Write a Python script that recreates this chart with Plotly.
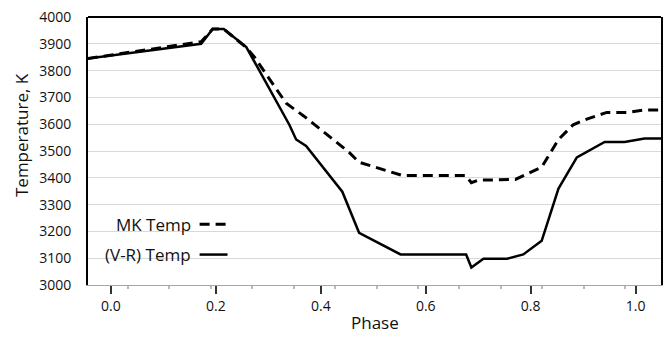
import plotly.graph_objects as go

# Data
phase_vr = [-0.044, 0.172, 0.194, 0.215, 0.258, 0.340, 0.353, 0.372, 0.441, 0.473,
            0.552, 0.677, 0.687, 0.710, 0.755, 0.786, 0.821, 0.853, 0.888, 0.941,
            0.979, 1.017, 1.049]
temp_vr = [3845, 3900, 3955, 3955, 3888, 3598, 3543, 3519, 3348, 3195,
           3114, 3114, 3065, 3098, 3098, 3114, 3165, 3360, 3476, 3534,
           3534, 3547, 3547]

phase_mk = [-0.044, 0.172, 0.194, 0.215, 0.258, 0.274, 0.334, 0.368, 0.454, 0.473,
            0.555, 0.676, 0.687, 0.700, 0.771, 0.802, 0.821, 0.840, 0.853, 0.881,
            0.907, 0.945, 0.983, 1.017, 1.049]
temp_mk = [3845, 3908, 3955, 3955, 3886, 3849, 3678, 3630, 3495, 3458,
           3409, 3409, 3382, 3391, 3394, 3421, 3440, 3501, 3543, 3598,
           3619, 3644, 3644, 3653, 3653]

legend_labels = ["MK Temp", "(V-R) Temp"]
x_ticks = [0.0, 0.2, 0.4, 0.6, 0.8, 1.0]
x_tick_text = ["0.0", "0.2", "0.4", "0.6", "0.8", "1.0"]
y_ticks = list(range(3000, 4001, 100))

FONT = "Open Sans"
TXT = "#111111"

fig = go.Figure()
fig.add_trace(go.Scatter(x=phase_mk, y=temp_mk, mode="lines", name=legend_labels[0],
                         line=dict(color="black", width=3, dash="10px,6px"), showlegend=False))
fig.add_trace(go.Scatter(x=phase_vr, y=temp_vr, mode="lines", name=legend_labels[1],
                         line=dict(color="black", width=2.5), showlegend=False))

W, H = 670, 337
L, R, T, B = 88, 7, 12, 52
pw, ph = W - L - R, H - T - B

def px2paper(px, py):
    return (px - L) / pw, (H - B - py) / ph

shapes = []
# top frame line
shapes.append(dict(type="line", xref="paper", yref="paper", x0=0, x1=1, y0=1, y1=1,
                   line=dict(color="black", width=2)))
# legend background
x0, y0 = px2paper(97, 275)
x1, y1 = px2paper(236, 207)
shapes.append(dict(type="rect", xref="paper", yref="paper", x0=x0, x1=x1, y0=y0, y1=y1,
                   fillcolor="white", line=dict(width=0), layer="below"))
annotations = []
rows = [(223, "10px,6px", 3), (254, "solid", 2.5)]
for (py, dash, w), lab in zip(rows, legend_labels):
    ax0, ay = px2paper(200, py)
    ax1, _ = px2paper(228, py)
    shapes.append(dict(type="line", xref="paper", yref="paper", x0=ax0, x1=ax1, y0=ay, y1=ay,
                       line=dict(color="black", width=w, dash=dash)))
    tx, _ = px2paper(193, py)
    annotations.append(dict(text=lab, xref="paper", yref="paper", x=tx, y=ay,
                            xanchor="right", yanchor="middle", showarrow=False,
                            font=dict(family=FONT, size=17, color=TXT)))

# y-axis title
ax, ay = px2paper(22, 132)
annotations.append(dict(text="Temperature, K", xref="paper", yref="paper", x=ax, y=ay,
                        textangle=-90, xanchor="center", yanchor="middle", showarrow=False,
                        font=dict(family=FONT, size=17, color=TXT)))
# x-axis title
ax, ay = px2paper(376, 323)
annotations.append(dict(text="Phase", xref="paper", yref="paper", x=ax, y=ay,
                        xanchor="center", yanchor="middle", showarrow=False,
                        font=dict(family=FONT, size=17, color=TXT)))

fig.update_layout(
    width=W, height=H,
    margin=dict(l=L, r=R, t=T, b=B),
    paper_bgcolor="white", plot_bgcolor="white",
    font=dict(family=FONT, size=14, color=TXT),
    shapes=shapes, annotations=annotations,
    xaxis=dict(range=[-0.0437, 1.0484], tickvals=x_ticks, ticktext=x_tick_text,
               showgrid=False, zeroline=False,
               showline=True, linecolor="#a6a6a6", linewidth=1,
               ticks="outside", ticklen=8, tickcolor="#333", tickwidth=1.5,
               tickfont=dict(family=FONT, size=14, color=TXT),
               minor=dict(tick0=0.0323, dtick=0.079, ticks="outside", ticklen=3,
                          tickcolor="#bbbbbb", showgrid=False)),
    yaxis=dict(range=[3000, 4000], tickvals=y_ticks,
               showgrid=True, gridcolor="#d9d9d9", gridwidth=1, zeroline=False,
               showline=True, linecolor="black", linewidth=2, mirror=True,
               ticks="", ticklabelstandoff=12,
               tickfont=dict(family=FONT, size=14, color=TXT)),
)

fig.write_html("out.html")
